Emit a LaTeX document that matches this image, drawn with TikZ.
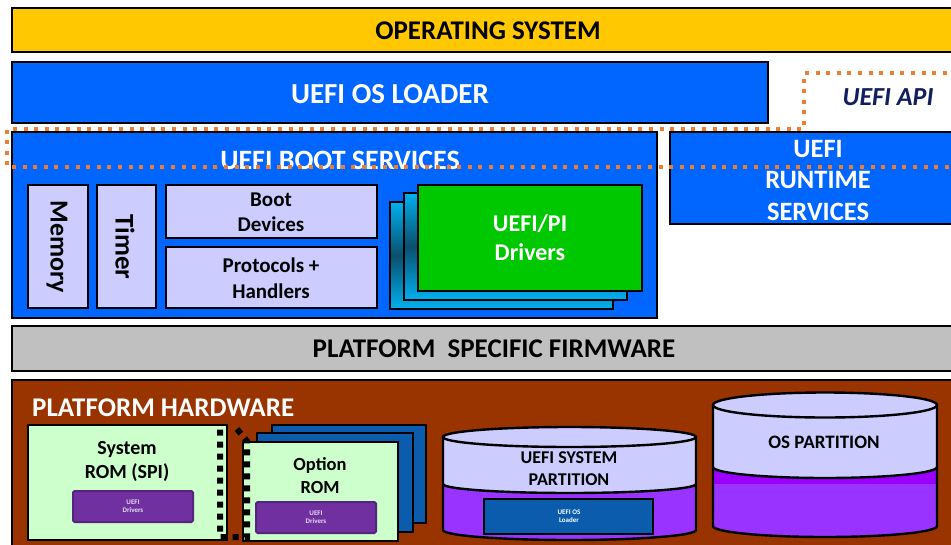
\documentclass[tikz,border=0pt]{standalone}
\usepackage{fontspec}
\setmainfont{Carlito}
\definecolor{osgold}{HTML}{FFC800}
\definecolor{uefiblue}{HTML}{0066FF}
\definecolor{lav}{HTML}{CCCCFF}
\definecolor{drvgreen}{HTML}{00C800}
\definecolor{fwgray}{HTML}{C0C0C0}
\definecolor{hwbrown}{HTML}{993300}
\definecolor{romgreen}{HTML}{CCFFCC}
\definecolor{purp}{HTML}{7030A0}
\definecolor{purpdark}{HTML}{55247F}
\definecolor{optblue}{HTML}{0B5CAD}
\definecolor{cylpurp}{HTML}{9933FF}
\definecolor{cylpurpB}{HTML}{9900FF}
\definecolor{apiorange}{HTML}{ED7D31}
\definecolor{apinavy}{HTML}{0F1F5F}
\definecolor{cyanA}{HTML}{00B0F0}
\definecolor{cyanD}{HTML}{0A4F6E}
\definecolor{tinytext}{HTML}{E6DDF2}
\begin{document}
\begin{tikzpicture}[x=1pt,y=-1pt,
  box/.style={draw=black,line width=2.4pt},
  thinbox/.style={draw=black,line width=2pt},
  wlbl/.style={font=\bfseries\fontsize{28}{31.5}\selectfont,text=white,align=center,inner sep=0pt},
  blbl/.style={font=\bfseries\fontsize{20}{24}\selectfont,text=black,align=center,inner sep=0pt},
  tiny/.style={font=\bfseries\fontsize{7}{8}\selectfont,text=tinytext,align=center,inner sep=0pt},
  apidots/.style={draw=apiorange,line width=4pt,dash pattern=on 4pt off 6.6pt},
  slot/.style={draw=black,line width=6pt,dash pattern=on 6pt off 6pt},
  cyl/.style={draw=black,line width=2.4pt}]
\useasboundingbox (0,0) rectangle (951,544);
\clip (0,0) rectangle (951,544);
\fill[white] (0,0) rectangle (951,544);

% Operating system
\path[box,fill=osgold] (12,8) rectangle (970,52);
\node[blbl,font=\bfseries\fontsize{27}{30}\selectfont] (os) at (488,31) {OPERATING SYSTEM};

% UEFI OS loader
\path[box,fill=uefiblue] (12,62) rectangle (768,123);
\node[wlbl,font=\bfseries\fontsize{29}{31}\selectfont] (osl) at (390,94) {UEFI OS LOADER};

% UEFI API label
\node[font=\bfseries\itshape\fontsize{26}{28}\selectfont,text=apinavy,inner sep=0pt] (api) at (888,97) {UEFI API};

% Boot services
\path[box,fill=uefiblue] (12,132) rectangle (657,318);
\node[wlbl] (bs) at (340,160) {UEFI BOOT SERVICES};

% Runtime services
\path[box,fill=uefiblue] (670,132) rectangle (970,224);
\node[wlbl,font=\bfseries\fontsize{26.5}{31.5}\selectfont] (rt) at (818,180) {UEFI\\RUNTIME\\SERVICES};

% Memory / Timer
\path[thinbox,fill=lav] (28,185) rectangle (88,308);
\node[blbl,rotate=-90,font=\bfseries\fontsize{26}{28}\selectfont] (mem) at (57,247) {Memory};
\path[thinbox,fill=lav] (97,185) rectangle (156,308);
\node[blbl,rotate=-90,font=\bfseries\fontsize{27}{28}\selectfont] (tim) at (125,247) {Timer};

% Boot devices / Protocols
\path[thinbox,fill=lav] (166,185) rectangle (377,238);
\node[blbl,font=\bfseries\fontsize{21}{25}\selectfont] (bd) at (271,212) {Boot\\Devices};
\path[thinbox,fill=lav] (166,247) rectangle (377,308);
\node[blbl,font=\bfseries\fontsize{21}{26}\selectfont] (ph) at (271,278) {Protocols +\\Handlers};

% Drivers stack
\shade[top color=cyanA,bottom color=cyanA,middle color=cyanD] (390,202) rectangle (613,309);
\draw[thinbox] (390,202) rectangle (613,309);
\shade[top color=cyanA,bottom color=cyanA,middle color=cyanD] (404,193) rectangle (627,300);
\draw[thinbox] (404,193) rectangle (627,300);
\path[thinbox,fill=drvgreen] (418,185) rectangle (642,291);
\node[wlbl,font=\bfseries\fontsize{24}{29}\selectfont] (drv) at (530,238) {UEFI/PI\\Drivers};

% API dotted outline
\draw[apidots] (970,167) -- (7,167) -- (7,129) -- (804,129) -- (804,73) -- (970,73);

% Platform specific firmware
\path[box,fill=fwgray] (12,326) rectangle (970,371);
\node[blbl,font=\bfseries\fontsize{27}{28}\selectfont] (psf) at (494,349) {PLATFORM\ \ SPECIFIC FIRMWARE};

% Platform hardware
\path[box,fill=hwbrown] (12,380) rectangle (970,560);
\node[wlbl,font=\bfseries\fontsize{27}{28}\selectfont,anchor=west] (hw) at (32,408) {PLATFORM HARDWARE};

% System ROM
\path[thinbox,fill=romgreen] (28,425) rectangle (227,540);
\node[blbl,font=\bfseries\fontsize{20}{24}\selectfont] (srom) at (127,461) {System\\ROM (SPI)};
\path[draw=purpdark,line width=2pt,fill=purp,rounded corners=1.5pt] (73,491) rectangle (193,522);
\node[tiny] (sdrv) at (133,506) {UEFI\\Drivers};

% Option ROM stack
\path[thinbox,fill=optblue] (272,425) rectangle (426,523);
\path[thinbox,fill=optblue] (257,433) rectangle (413,532);
\path[thinbox,fill=romgreen] (243,442) rectangle (398,541);
\node[blbl,font=\bfseries\fontsize{18.5}{23}\selectfont] (orom) at (320,476) {Option\\ROM};
\path[draw=purpdark,line width=2pt,fill=purp,rounded corners=1.5pt] (256,502) rectangle (376,533);
\node[tiny] (odrv) at (316,517) {UEFI\\Drivers};

% slot connector
\draw[slot] (237,429) -- (247,441) -- (247,537) -- (220,537) -- (220,428);

% UEFI system partition cylinder
\fill[cylpurp] (443,484) -- (443,530) arc[start angle=180,end angle=0,x radius=126.5,y radius=10]
   -- (696,484) arc[start angle=0,end angle=180,x radius=126.5,y radius=9] -- cycle;
\fill[lav] (443,437) -- (443,484) arc[start angle=180,end angle=0,x radius=126.5,y radius=9]
   -- (696,437) arc[start angle=0,end angle=-180,x radius=126.5,y radius=10] -- cycle;
\draw[cyl] (443,484) arc[start angle=180,end angle=0,x radius=126.5,y radius=9];
\draw[cyl] (443,437) -- (443,530) arc[start angle=180,end angle=0,x radius=126.5,y radius=10] -- (696,437);
\draw[cyl] (569.5,437) ellipse[x radius=126.5,y radius=10];
\node[blbl,font=\bfseries\fontsize{18}{22}\selectfont] (esp) at (569,469) {UEFI SYSTEM\\PARTITION};
\path[thinbox,fill=optblue] (484,499) rectangle (653,534);
\node[tiny,text=white] (espl) at (569,516) {UEFI OS\\Loader};

% OS partition cylinder
\fill[cylpurpB] (713,467) -- (713,526) arc[start angle=180,end angle=0,x radius=112,y radius=11]
   -- (937,467) arc[start angle=0,end angle=180,x radius=112,y radius=11] -- cycle;
\fill[cylpurp] (713,484) -- (713,526) arc[start angle=180,end angle=0,x radius=112,y radius=11]
   -- (937,484) -- cycle;
\fill[lav] (713,405) -- (713,467) arc[start angle=180,end angle=0,x radius=112,y radius=11]
   -- (937,405) arc[start angle=0,end angle=-180,x radius=112,y radius=12.5] -- cycle;
\draw[cyl] (713,467) arc[start angle=180,end angle=0,x radius=112,y radius=11];
\draw[cyl] (713,405) -- (713,526) arc[start angle=180,end angle=0,x radius=112,y radius=11] -- (937,405);
\draw[cyl] (825,405) ellipse[x radius=112,y radius=12.5];
\node[blbl,font=\bfseries\fontsize{19}{22}\selectfont] (osp) at (824,442) {OS PARTITION};
\end{tikzpicture}
\end{document}
